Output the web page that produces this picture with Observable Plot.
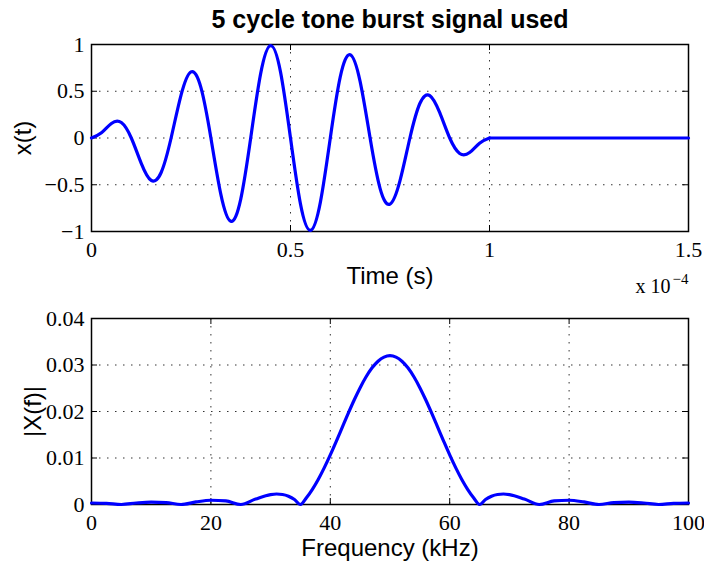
<!DOCTYPE html>
<html><head><meta charset="utf-8">
<script src="https://cdn.jsdelivr.net/npm/d3@7"></script>
<script src="https://cdn.jsdelivr.net/npm/@observablehq/plot@0.6"></script>
<style>
body{margin:0;background:#fff;}
#chart{position:relative;width:704px;height:566px;}
#chart svg{position:absolute;left:0;overflow:visible;}
</style></head><body><div id="chart"></div>
<script>
const titleText = "5 cycle tone burst signal used";
const timeLabel = "Time (s)";
const signalLabel = "x(t)";
const freqLabel = "Frequency (kHz)";
const specLabel = "|X(f)|";
const timeExponentBase = "x 10";
const timeExponent = "−4";

// time in units of 1e-4 s
const burstTime = [0,0.025,0.05,0.075,0.1,0.125,0.15,0.175,0.2,0.225,0.25,0.275,0.3,0.325,0.35,0.375,0.4,0.425,0.45,0.475,0.5,0.525,0.55,0.575,0.6,0.625,0.65,0.675,0.7,0.725,0.75,0.775,0.8,0.825,0.85,0.875,0.9,0.925,0.95,0.975,1.0];
const burstValue = [0,0.055,0.156,0.165,0,-0.271,-0.454,-0.369,0,0.459,0.707,0.538,0,-0.603,-0.891,-0.653,0,0.688,0.988,0.705,0,-0.705,-0.988,-0.688,0,0.653,0.891,0.603,0,-0.538,-0.707,-0.459,0,0.369,0.454,0.271,0,-0.165,-0.156,-0.055,0];
const tailTime = [1.0, 1.5];
const tailValue = [0, 0];

const timeTicks = [0, 0.5, 1, 1.5];
const timeTickLabels = ["0", "0.5", "1", "1.5"];
const signalTicks = [-1, -0.5, 0, 0.5, 1];
const signalTickLabels = ["−1", "−0.5", "0", "0.5", "1"];

const freq = [0,2.5,5,7.5,10,12.5,15,17.5,20,22.5,25,27.5,30,31,32,33,34,35,36,37,38,39,40,41,42,43,44,45,46,47,48,49,50,51,52,53,54,55,56,57,58,59,60,61,62,63,64,65,66,67,68,69,70,72.5,75,77.5,80,82.5,85,87.5,90,92.5,95,97.5,100];
const mag = [0.00032,0.00025,0,0.00032,0.00051,0.00041,0,0.00055,0.00091,0.00077,0,0.00118,0.00213,0.00226,0.00216,0.00178,0.00107,0,0.00145,0.00327,0.00544,0.00793,0.01067,0.01359,0.01659,0.01959,0.02247,0.02513,0.02747,0.02939,0.03082,0.0317,0.032,0.0317,0.03082,0.02939,0.02747,0.02513,0.02247,0.01959,0.01659,0.01359,0.01067,0.00793,0.00544,0.00327,0.00145,0,0.00107,0.00178,0.00216,0.00226,0.00213,0.00118,0,0.00077,0.00091,0.00055,0,0.00041,0.00051,0.00032,0,0.00025,0.00032];
const freqTicks = [0, 20, 40, 60, 80, 100];
const freqTickLabels = ["0", "20", "40", "60", "80", "100"];
const magTicks = [0, 0.01, 0.02, 0.03, 0.04];
const magTickLabels = ["0", "0.01", "0.02", "0.03", "0.04"];

const SANS = "'Liberation Sans', Arial, Helvetica, sans-serif";
const SERIF = "'Liberation Serif', 'Times New Roman', serif";
const BLUE = "#0000ff";
const gridStyle = {stroke: "#000", strokeOpacity: 0.8, strokeWidth: 1, strokeDasharray: "1.5,6.5"};
const tickText = {fontFamily: SERIF, fontSize: 22, fill: "#000"};
const TICK = 6;

function fmt(ticks, labels) {
  const m = new Map(ticks.map((t, i) => [t, labels[i]]));
  return d => m.get(d);
}
function frameAxes(xt, xl, yt, yl, fw, fh) {
  return [
    Plot.gridX(xt, gridStyle),
    Plot.gridY(yt, gridStyle),
    Plot.text(xt, {x: d => d, text: fmt(xt, xl), frameAnchor: "bottom", dy: 10, lineAnchor: "top", textAnchor: "middle", ...tickText}),
    Plot.text(yt, {y: d => d, text: fmt(yt, yl), frameAnchor: "left", dx: -7, lineAnchor: "middle", textAnchor: "end", ...tickText}),
    Plot.tickX(xt, {x: d => d, insetTop: fh - TICK, stroke: "#000"}),
    Plot.tickX(xt, {x: d => d, insetBottom: fh - TICK, stroke: "#000"}),
    Plot.tickY(yt, {y: d => d, insetRight: fw - TICK, stroke: "#000"}),
    Plot.tickY(yt, {y: d => d, insetLeft: fw - TICK, stroke: "#000"}),
    Plot.frame({stroke: "#000", strokeWidth: 1.5})
  ];
}
const baseStyle = {fontFamily: SERIF, fontSize: "22px", color: "#000", background: "transparent", overflow: "visible"};

const burst = burstTime.map((t, i) => ({t, v: burstValue[i]}));
const tail = tailTime.map((t, i) => ({t, v: tailValue[i]}));
const spec = freq.map((f, i) => ({f, m: mag[i]}));

const W = 704, ML = 91, MR = 16;
const FW = W - ML - MR;

const topH = 290, topMT = 44, topMB = 59;
const topPlot = Plot.plot({
  width: W, height: topH,
  marginLeft: ML, marginRight: MR, marginTop: topMT, marginBottom: topMB,
  style: baseStyle,
  x: {domain: [0, 1.5], axis: null},
  y: {domain: [-1, 1], axis: null},
  marks: [
    ...frameAxes(timeTicks, timeTickLabels, signalTicks, signalTickLabels, FW, topH - topMT - topMB),
    Plot.line(burst, {x: "t", y: "v", stroke: BLUE, strokeWidth: 3.2, curve: "natural"}),
    Plot.line(tail, {x: "t", y: "v", stroke: BLUE, strokeWidth: 3.2}),
    Plot.text([titleText], {text: d => d, frameAnchor: "top", dy: -17, lineAnchor: "bottom", fontFamily: SANS, fontWeight: "bold", fontSize: 25, fill: "#000"}),
    Plot.text([timeLabel], {text: d => d, frameAnchor: "bottom", dy: 52, lineAnchor: "bottom", fontFamily: SANS, fontSize: 24, fill: "#000"}),
    Plot.text([timeExponentBase], {text: d => d, frameAnchor: "bottom-right", dx: -18, dy: 61, textAnchor: "end", lineAnchor: "bottom", fontFamily: SERIF, fontSize: 20, fill: "#000"}),
    Plot.text([timeExponent], {text: d => d, frameAnchor: "bottom-right", dx: 0, dy: 52, textAnchor: "end", lineAnchor: "bottom", fontFamily: SERIF, fontSize: 15, fill: "#000"}),
    Plot.text([signalLabel], {text: d => d, frameAnchor: "left", dx: -61, rotate: -90, lineAnchor: "bottom", textAnchor: "middle", fontFamily: SANS, fontSize: 24, fill: "#000"})
  ]
});
topPlot.style.top = "0px";

const botH = 276, botMT = 28, botMB = 62;
const botPlot = Plot.plot({
  width: W, height: botH,
  marginLeft: ML, marginRight: MR, marginTop: botMT, marginBottom: botMB,
  style: baseStyle,
  x: {domain: [0, 100], axis: null},
  y: {domain: [0, 0.04], axis: null},
  marks: [
    ...frameAxes(freqTicks, freqTickLabels, magTicks, magTickLabels, FW, botH - botMT - botMB),
    Plot.line(spec, {x: "f", y: "m", stroke: BLUE, strokeWidth: 3.2, curve: "monotone-x"}),
    Plot.text([freqLabel], {text: d => d, frameAnchor: "bottom", dy: 51, lineAnchor: "bottom", fontFamily: SANS, fontSize: 24, fill: "#000"}),
    Plot.text([specLabel], {text: d => d, frameAnchor: "left", dx: -51, rotate: -90, lineAnchor: "bottom", textAnchor: "middle", fontFamily: SANS, fontSize: 24, fill: "#000"})
  ]
});
botPlot.style.top = "290px";

const chart = document.getElementById("chart");
chart.appendChild(topPlot);
chart.appendChild(botPlot);
</script></body></html>
